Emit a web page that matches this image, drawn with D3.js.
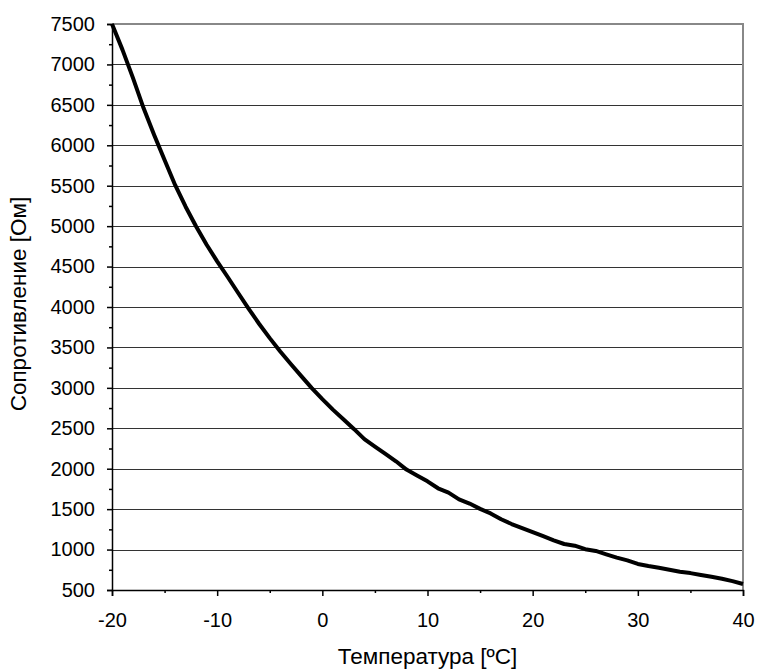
<!DOCTYPE html>
<html>
<head>
<meta charset="utf-8">
<script src="https://cdn.jsdelivr.net/npm/d3@7"></script>
<style>
  body { margin: 0; background: #fff; }
  svg { display: block; font-family: "Liberation Sans", Arial, sans-serif; }
</style>
</head>
<body>
<div id="grafica"></div>
<script>
// Temperatura (ºC) y resistencia (Ом)
const temperaturas = [-20, -19, -18, -17, -16, -15, -14, -13, -12, -11, -10,
  -9, -8, -7, -6, -5, -4, -3, -2, -1, 0, 1, 2, 3, 4, 5, 6, 7, 8, 9, 10,
  11, 12, 13, 14, 15, 16, 17, 18, 19, 20, 21, 22, 23, 24, 25, 26, 27, 28, 29, 30,
  31, 32, 33, 34, 35, 36, 37, 38, 39, 40];
const resistencias = [7500, 7180, 6830, 6460, 6131, 5818, 5510, 5240, 4995, 4770, 4565,
  4371, 4173, 3976, 3790, 3615, 3450, 3295, 3145, 2997, 2861, 2731, 2612, 2492, 2366, 2274, 2183, 2092, 1989, 1917, 1844,
  1758, 1704, 1620, 1569, 1503, 1447, 1375, 1316, 1265, 1215, 1165, 1114, 1069, 1048, 1005, 983, 941, 901, 866, 822,
  797, 775, 751, 726, 709, 686, 663, 640, 610, 574];

const ticksX = [-20, -10, 0, 10, 20, 30, 40];
const ticksXMinor = [-15, -5, 5, 15, 25, 35];
const ticksY = d3.range(500, 7501, 500);
const ticksYMinor = d3.range(750, 7500, 500);

const etiquetaX = 'Температура [ºC]';
const etiquetaY = 'Сопротивление [Ом]';

function drawChart() {
  const width_svg = 758;
  const height_svg = 670;
  const marginLeft = 112;
  const marginTop = 24;
  const marginRight = 15;
  const marginBottom = 80;
  const width = width_svg - marginRight;
  const height = height_svg - marginBottom;

  const svg = d3.select('#grafica')
    .append('svg')
    .attr('width', width_svg)
    .attr('height', height_svg);

  const x = d3.scaleLinear()
    .domain([-20, 40])
    .range([marginLeft, width]);

  const y = d3.scaleLinear()
    .domain([500, 7500])
    .range([height, marginTop]);

  // Lineas de la rejilla horizontales
  svg.append('g')
    .selectAll('line')
    .data(ticksY)
    .enter()
    .append('line')
    .attr('x1', marginLeft)
    .attr('x2', width)
    .attr('y1', d => Math.round(y(d)) + 0.5)
    .attr('y2', d => Math.round(y(d)) + 0.5)
    .attr('stroke', '#333')
    .attr('stroke-width', 1);

  // Borde superior y derecho en gris
  svg.append('path')
    .attr('fill', 'none')
    .attr('stroke', '#888')
    .attr('stroke-width', 2)
    .attr('d', `M${marginLeft},${marginTop}H${width}V${height}`);

  // Ejes (con guion normal para los negativos, no el signo menos)
  const axisX = d3.axisBottom(x)
    .tickValues(ticksX)
    .tickSize(6)
    .tickPadding(17)
    .tickFormat(d => String(d));
  svg.append('g')
    .attr('transform', `translate(0,${height})`)
    .call(axisX);

  const axisXMinor = d3.axisBottom(x)
    .tickValues(ticksXMinor)
    .tickSize(3)
    .tickFormat('');
  svg.append('g')
    .attr('transform', `translate(0,${height})`)
    .call(axisXMinor)
    .call(g => g.select('.domain').remove());

  const axisY = d3.axisLeft(y)
    .tickValues(ticksY)
    .tickSize(5)
    .tickPadding(12)
    .tickFormat(d => String(d));
  svg.append('g')
    .attr('transform', `translate(${marginLeft},0)`)
    .call(axisY);

  const axisYMinor = d3.axisLeft(y)
    .tickValues(ticksYMinor)
    .tickSize(3)
    .tickFormat('');
  svg.append('g')
    .attr('transform', `translate(${marginLeft},0)`)
    .call(axisYMinor)
    .call(g => g.select('.domain').remove());

  svg.selectAll('.domain, .tick line')
    .attr('stroke', '#000')
    .attr('stroke-width', 1.5);

  svg.selectAll('.tick text')
    .attr('font-size', 20)
    .attr('fill', '#000');

  // Curva
  const datos = temperaturas.map((t, i) => ({ t: t, r: resistencias[i] }));
  const line = d3.line()
    .x(d => x(d.t))
    .y(d => y(d.r));

  svg.append('path')
    .attr('fill', 'none')
    .attr('stroke', '#000')
    .attr('stroke-width', 4)
    .attr('stroke-linejoin', 'round')
    .attr('d', line(datos));

  // Titulos de los ejes
  svg.append('text')
    .attr('x', (marginLeft + width) / 2)
    .attr('y', 664)
    .attr('text-anchor', 'middle')
    .attr('font-size', 22.5)
    .text(etiquetaX);

  svg.append('text')
    .attr('transform', 'translate(26,304) rotate(-90)')
    .attr('text-anchor', 'middle')
    .attr('font-size', 22.5)
    .text(etiquetaY);
}

drawChart();
</script>
</body>
</html>
